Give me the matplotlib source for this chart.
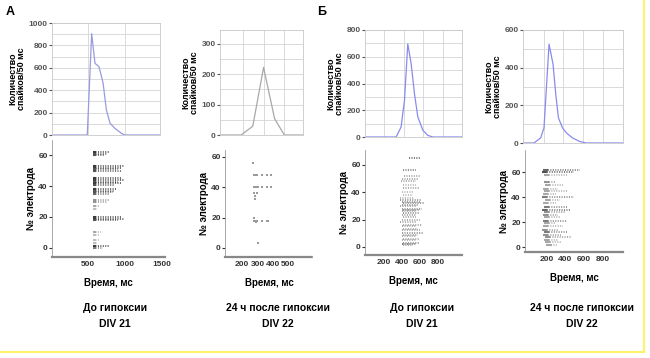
import numpy as np
import matplotlib.pyplot as plt
from matplotlib.lines import Line2D

plt.rcParams['font.family'] = ['Liberation Sans', 'DejaVu Sans']

# ---- histograms: time (ms) vs spikes per 50 ms ----
a1_hist_t = [10, 100, 200, 300, 400, 490, 550, 595, 650, 705, 750, 800, 865, 955, 1000, 1100, 1200, 1300, 1400, 1480]
a1_hist_n = [0, 0, 0, 0, 0, 0, 905, 640, 610, 465, 225, 105, 60, 15, 0, 0, 0, 0, 0, 0]

a2_hist_t = [90, 150, 192, 248, 300, 353, 400, 440, 490]
a2_hist_n = [0, 0, 0, 29, 222, 54, 0, 0, 0]

b1_hist_t = [0, 100, 200, 321, 372, 407, 441, 476, 510, 545, 597, 648, 700, 800, 900, 1000]
b1_hist_n = [0, 0, 0, 0, 75, 273, 696, 547, 323, 149, 50, 12, 0, 0, 0, 0]

b2_hist_t = [-15, 97, 166, 200, 252, 293, 321, 348, 390, 431, 493, 562, 631, 800, 1010]
b2_hist_n = [0, 0, 27, 80, 525, 418, 258, 134, 80, 53, 27, 9, 0, 0, 0]

# ---- rasters: electrode rows with spike spans (ms) and darkness ----
a1_elec = [62, 61, 60, 53, 52, 51, 50, 45, 44, 43, 42, 41, 38, 37, 36, 35, 31, 30, 27, 25, 20, 19, 18, 10, 8, 5, 3, 1, 0]
a1_t0 = [565] * 29
a1_t1 = [800, 760, 720, 980, 960, 900, 940, 960, 980, 900, 940, 850, 880, 860, 840, 780, 800, 760, 640, 620,
         960, 980, 900, 680, 660, 640, 620, 780, 700]
a1_tone = [0.9, 0.8, 0.8, 0.9, 0.9, 0.8, 0.8, 0.9, 0.9, 0.8, 0.9, 0.8, 0.9, 0.8, 0.8, 0.7, 0.5, 0.5, 0.4, 0.3,
           0.9, 0.9, 0.8, 0.4, 0.3, 0.3, 0.3, 0.9, 0.6]

a2_spk_elec = [56, 48, 48, 48, 48, 48, 48, 40, 40, 40, 40, 40, 40, 40, 36, 36, 34, 32, 20,
               18, 18, 18, 18, 18, 18, 17, 3]
a2_spk_t = [270, 275, 285, 295, 330, 360, 385, 275, 285, 295, 305, 330, 360, 385, 280, 295, 285, 285, 275,
            280, 290, 300, 330, 360, 370, 290, 305]

b1_elec = [65, 56, 52, 50, 48, 45, 43, 40, 38, 36, 34, 33, 32, 31, 30, 28, 27, 26, 25, 23, 22, 20, 18,
           16, 15, 13, 12, 10, 9, 8, 6, 5, 3, 2, 1]
b1_t0 = [480, 410, 430, 400, 390, 420, 420, 400, 410, 380, 380, 400, 420, 400, 380, 400, 420, 400, 410, 400,
         420, 400, 380, 420, 400, 410, 400, 400, 420, 400, 420, 400, 420, 400, 420]
b1_t1 = [600, 560, 600, 580, 560, 560, 600, 540, 520, 540, 620, 600, 640, 580, 560, 620, 600, 560, 600, 560,
         560, 600, 560, 620, 560, 580, 600, 640, 580, 560, 600, 560, 600, 560, 520]
b1_tone = [0.8, 0.7, 0.5, 0.5, 0.5, 0.4, 0.5, 0.4, 0.4, 0.4, 0.6, 0.6, 0.6, 0.6, 0.5, 0.6, 0.6, 0.5, 0.6, 0.5,
           0.5, 0.5, 0.5, 0.5, 0.5, 0.5, 0.5, 0.6, 0.5, 0.5, 0.5, 0.5, 0.6, 0.7, 0.5]

b2_elec = [62, 60, 58, 52, 50, 47, 45, 43, 40, 38, 35, 32, 30, 28, 26, 24, 21, 19, 17, 14, 12, 10, 8, 6, 4, 2]
b2_t0 = [160, 150, 170, 170, 180, 160, 170, 160, 150, 180, 160, 170, 150, 170, 160, 170, 160, 170, 160, 150,
         170, 160, 180, 170, 180, 200]
b2_t1 = [560, 500, 420, 300, 380, 320, 420, 300, 500, 340, 300, 420, 460, 400, 320, 340, 420, 300, 380, 320,
         420, 360, 460, 320, 360, 320]
b2_tone = [0.7, 0.8, 0.4, 0.5, 0.4, 0.4, 0.4, 0.4, 0.6, 0.4, 0.4, 0.6, 0.7, 0.5, 0.5, 0.4, 0.6, 0.4, 0.4, 0.5,
           0.6, 0.5, 0.5, 0.4, 0.4, 0.4]

captions = ["До гипоксии\nDIV 21", "24 ч после гипоксии\nDIV 22", "До гипоксии\nDIV 21", "24 ч после гипоксии\nDIV 22"]
caption_x = [115, 278, 422, 582]

W, H = 650, 358


def box(left, top, right, bottom):
    return [left / W, 1 - bottom / H, (right - left) / W, (bottom - top) / H]


def style_hist(ax, t, n, color, xlim, ylim, yticks, ygrid, xgrid):
    ax.plot(t, n, color=color, lw=0.9)
    ax.set_xlim(*xlim)
    ax.set_ylim(*ylim)
    ax.set_yticks(yticks)
    ax.set_yticks(ygrid, minor=True)
    ax.set_xticks(xgrid)
    ax.set_xticklabels([])
    ax.tick_params(axis='x', length=0)
    ax.tick_params(axis='y', which='major', length=2, labelsize=6, colors='#555', pad=1)
    ax.tick_params(axis='y', which='minor', length=0)
    for lab in ax.get_yticklabels():
        lab.set_fontweight('bold')
    ax.grid(True, which='both', color='#d4d4d4', lw=0.6)
    ax.set_axisbelow(True)
    for s in ax.spines.values():
        s.set_color('#c8c8c8')
        s.set_linewidth(0.6)
    ax.set_ylabel("Количество\nспайков/50 мс", fontsize=6.5, fontweight='bold', labelpad=2, linespacing=0.95)


def style_raster(ax, xlim, ylim, xticks):
    ax.set_xlim(*xlim)
    ax.set_ylim(*ylim)
    ax.set_xticks(xticks)
    ax.set_yticks([0, 20, 40, 60])
    ax.spines['top'].set_visible(False)
    ax.spines['right'].set_visible(False)
    ax.spines['left'].set_color('#999')
    ax.spines['left'].set_linewidth(0.6)
    ax.spines['bottom'].set_color('#888')
    ax.spines['bottom'].set_linewidth(1.6)
    ax.spines['bottom'].set_linestyle((0, (3, 0.6)))
    ax.tick_params(length=2, labelsize=6, colors='#333', pad=1)
    ax.tick_params(axis='x', length=0, pad=3)
    for lab in ax.get_xticklabels() + ax.get_yticklabels():
        lab.set_fontweight('bold')
    ax.set_xlabel("Время, мс", fontsize=7, fontweight='bold', labelpad=7)
    ax.set_ylabel("№ электрода", fontsize=7, fontweight='bold', labelpad=2)


def spans(ax, elec, t0, t1, tone, head=0):
    cols = [str(round(1 - 0.85 * v, 3)) for v in tone]
    ax.hlines(elec, t0, t1, colors=cols, lw=1.1, linestyles=(0, (0.7, 0.9)))
    if head:
        ax.hlines(elec, t0, [a + head for a in t0], colors=cols, lw=1.5)


fig = plt.figure(figsize=(6.5, 3.58), dpi=100)

# panel A, before hypoxia
ax = fig.add_axes(box(52, 23, 160, 135))
style_hist(ax, a1_hist_t, a1_hist_n, '#9a9ae0', (10, 1480), (0, 1000),
           [0, 200, 400, 600, 800, 1000], np.arange(0, 1001, 100), [500, 1000])
ax = fig.add_axes(box(52, 140, 165, 257))
spans(ax, a1_elec, a1_t0, a1_t1, a1_tone, head=45)
style_raster(ax, (10, 1540), (-6, 70), [500, 1000, 1500])

# panel A, 24 h after hypoxia
ax = fig.add_axes(box(220, 30, 303, 135))
style_hist(ax, a2_hist_t, a2_hist_n, '#a8a8a8', (90, 490), (0, 345),
           [0, 100, 200, 300], np.arange(0, 346, 50), [200, 300, 400])
ax = fig.add_axes(box(225, 150, 313, 257))
ax.scatter(a2_spk_t, a2_spk_elec, s=1.5, marker='s', color='#9a9a9a', lw=0)
style_raster(ax, (90, 660), (-6, 64.5), [200, 300, 400, 500])

# panel Б, before hypoxia
ax = fig.add_axes(box(365, 30, 462, 137))
style_hist(ax, b1_hist_t, b1_hist_n, '#8a8aee', (0, 1000), (0, 800),
           [0, 200, 400, 600, 800], np.arange(0, 801, 100), [200, 400, 600, 800])
ax = fig.add_axes(box(365, 150, 462, 255))
spans(ax, b1_elec, b1_t0, b1_t1, b1_tone)
style_raster(ax, (0, 1060), (-6, 71), [200, 400, 600, 800])

# panel Б, 24 h after hypoxia
ax = fig.add_axes(box(523, 30, 623, 143))
style_hist(ax, b2_hist_t, b2_hist_n, '#8a8aee', (-15, 1010), (0, 600),
           [0, 200, 400, 600], np.arange(0, 601, 100), [200, 400, 600, 800])
ax = fig.add_axes(box(525, 150, 623, 252))
spans(ax, b2_elec, b2_t0, b2_t1, b2_tone, head=60)
style_raster(ax, (-30, 1020), (-4, 78), [200, 400, 600, 800])

# panel letters and captions
fig.text(6 / W, 1 - 12 / H, "А", fontsize=9, fontweight='bold', va='center')
fig.text(317 / W, 1 - 12 / H, "Б", fontsize=9, fontweight='bold', va='center')
for cx, cap in zip(caption_x, captions):
    fig.text(cx / W, 1 - 316 / H, cap, ha='center', va='center', fontsize=7.5, fontweight='bold',
             linespacing=1.75)

# yellow frame edges
fig.add_artist(Line2D([644 / W, 644 / W], [1, 1 - 352 / H], color='#fff36a', lw=1.5))
fig.add_artist(Line2D([0, 644 / W], [1 - 352 / H, 1 - 352 / H], color='#fff36a', lw=1.5))

fig.savefig("out.png", dpi=100)
